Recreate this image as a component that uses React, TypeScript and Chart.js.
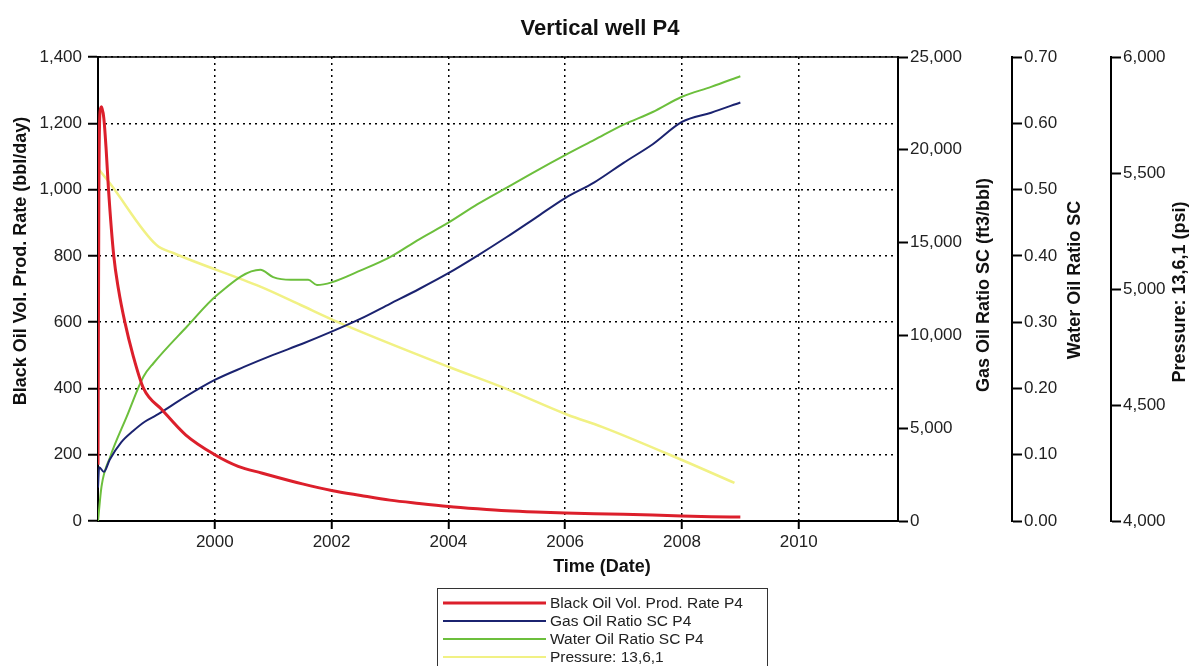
import React, { useEffect, useRef } from 'react';
import { Chart, registerables } from 'chart.js';

Chart.register(...registerables);

// ---- Data ----
const xTicks = [2000, 2002, 2004, 2006, 2008, 2010];

const oilYears = [1998.0, 1998.015, 1998.035, 1998.06, 1998.1, 1998.14, 1998.18, 1998.27, 1998.35, 1998.46, 1998.6, 1998.78, 1999.1, 1999.5, 2000, 2000.4, 2000.8, 2001.5, 2002, 2002.5, 2003, 2003.5, 2004, 2004.5, 2005, 2005.5, 2006, 2006.5, 2007, 2007.5, 2008, 2008.5, 2009];
const oilRate = [170, 1000, 1235, 1250, 1215, 1120, 1000, 800, 700, 600, 500, 400, 335, 260, 200, 165, 145, 112, 92, 77, 63, 53, 44, 37, 31, 27, 24, 22, 20, 18, 15, 13, 12];

const gorYears = [1998.0, 1998.02, 1998.1, 1998.2, 1998.4, 1998.6, 1998.8, 1999.0, 1999.5, 2000, 2000.5, 2001, 2001.5, 2002, 2002.5, 2003, 2003.5, 2004, 2004.5, 2005, 2005.5, 2006, 2006.5, 2007, 2007.5, 2008, 2008.5, 2009];
const gorValues = [1800, 2900, 2650, 3300, 4250, 4850, 5350, 5700, 6700, 7600, 8300, 8950, 9550, 10200, 10900, 11700, 12500, 13350, 14300, 15300, 16350, 17400, 18250, 19300, 20300, 21500, 22000, 22550];

const worYears = [1998.0, 1998.06, 1998.21, 1998.49, 1998.78, 1998.95, 1999.52, 2000.04, 2000.78, 2001.0, 2001.3, 2001.6, 2001.75, 2002.0, 2002.5, 2003, 2003.5, 2004, 2004.5, 2005, 2005.5, 2006, 2006.5, 2007, 2007.5, 2008, 2008.5, 2009];
const worValues = [0.0, 0.052, 0.097, 0.157, 0.218, 0.238, 0.293, 0.341, 0.379, 0.368, 0.364, 0.364, 0.356, 0.36, 0.378, 0.398, 0.425, 0.45, 0.478, 0.503, 0.528, 0.552, 0.575, 0.598, 0.617, 0.64, 0.655, 0.671];

const presYears = [1998.0, 1998.2, 1999.0, 1999.3, 2000.78, 2001.47, 2002.03, 2004.0, 2004.9, 2006.05, 2006.63, 2008.0, 2008.9];
const presValues = [5520, 5457, 5190, 5154, 5010, 4931, 4866, 4665, 4579, 4457, 4406, 4263, 4164];

const seriesNames = ['Black Oil Vol. Prod. Rate P4', 'Gas Oil Ratio SC P4', 'Water Oil Ratio SC P4', 'Pressure: 13,6,1'];
const seriesColors = ['#dc1f2b', '#1b2370', '#6cbf3c', '#f1f184'];

const toPts = (xs: number[], ys: number[]) => xs.map((x, i) => ({ x, y: ys[i] }));

const FONT = '"Liberation Sans", Arial, sans-serif';

const decoPlugin = {
  id: 'deco',
  afterDraw(chart: any) {
    const { ctx, chartArea: ca } = chart;
    ctx.save();
    ctx.strokeStyle = '#000';
    ctx.lineWidth = 1.5;
    ctx.beginPath();
    ctx.moveTo(ca.left, ca.top);
    ctx.lineTo(ca.right, ca.top);
    ctx.stroke();

    ctx.fillStyle = '#111';
    ctx.textAlign = 'center';
    ctx.textBaseline = 'middle';
    ctx.font = `bold 22px ${FONT}`;
    ctx.fillText('Vertical well P4', 600, 29);
    ctx.font = `bold 18px ${FONT}`;
    ctx.fillText('Time (Date)', 602, 567);

    const vt = (t: string, x: number, y: number) => {
      ctx.save();
      ctx.translate(x, y);
      ctx.rotate(-Math.PI / 2);
      ctx.fillText(t, 0, 0);
      ctx.restore();
    };
    ctx.font = `bold 18px ${FONT}`;
    vt('Black Oil Vol. Prod. Rate (bbl/day)', 21, 261);
    vt('Gas Oil Ratio SC (ft3/bbl)', 984, 285);
    vt('Water Oil Ratio SC', 1075, 280);
    vt('Pressure: 13,6,1 (psi)', 1180, 292);

    // legend
    ctx.strokeStyle = '#333';
    ctx.lineWidth = 1;
    ctx.strokeRect(437.5, 588.5, 330, 90);
    ctx.font = `15.5px ${FONT}`;
    ctx.textAlign = 'left';
    chart.data.datasets.forEach((ds: any, i: number) => {
      const y = 603 + i * 18;
      ctx.strokeStyle = ds.borderColor;
      ctx.lineWidth = i === 0 ? 3 : 2;
      ctx.beginPath();
      ctx.moveTo(443, y);
      ctx.lineTo(546, y);
      ctx.stroke();
      ctx.fillStyle = '#222';
      ctx.fillText(ds.label, 550, y + 1);
    });
    ctx.restore();
  },
};

export default function App() {
  const ref = useRef<HTMLCanvasElement>(null);
  useEffect(() => {
    document.body.style.margin = '0';
    const canvas = ref.current!;
    const tickFont = { family: FONT, size: 17 };
    const sideAxis = (min: number, max: number, step: number, width: number, cb?: (v: number) => string) => ({
      type: 'linear' as const,
      position: 'right' as const,
      min,
      max,
      afterFit: (s: any) => { s.width = width; },
      ticks: { stepSize: step, font: tickFont, color: '#222', padding: 2, ...(cb ? { callback: (v: any) => cb(Number(v)) } : {}) },
      grid: { drawOnChartArea: false, drawTicks: true, tickLength: 10, tickColor: '#000', tickWidth: 2 },
      border: { display: true, color: '#000', width: 2 },
    });
    const chart = new Chart(canvas, {
      type: 'line',
      data: {
        datasets: [
          { label: seriesNames[0], data: toPts(oilYears, oilRate), borderColor: seriesColors[0], borderWidth: 3, yAxisID: 'y', pointRadius: 0, cubicInterpolationMode: 'monotone' },
          { label: seriesNames[1], data: toPts(gorYears, gorValues), borderColor: seriesColors[1], borderWidth: 2, yAxisID: 'gor', pointRadius: 0, cubicInterpolationMode: 'monotone' },
          { label: seriesNames[2], data: toPts(worYears, worValues), borderColor: seriesColors[2], borderWidth: 2, yAxisID: 'wor', pointRadius: 0, cubicInterpolationMode: 'monotone' },
          { label: seriesNames[3], data: toPts(presYears, presValues), borderColor: seriesColors[3], borderWidth: 2.5, yAxisID: 'pres', pointRadius: 0, cubicInterpolationMode: 'monotone' },
        ],
      },
      options: {
        responsive: false,
        animation: false,
        devicePixelRatio: 1,
        layout: { padding: { top: 57, left: 0, right: 0, bottom: 0 } },
        plugins: { legend: { display: false }, title: { display: false }, tooltip: { enabled: false } },
        scales: {
          x: {
            type: 'linear',
            min: 1998,
            max: 2011.7,
            afterBuildTicks: (s: any) => { s.ticks = xTicks.map((v) => ({ value: v })); },
            afterFit: (s: any) => { s.height = 145; },
            ticks: { font: tickFont, color: '#222', padding: 3, maxRotation: 0, callback: (v: any) => String(v) },
            grid: { color: '#000', lineWidth: 1.5, drawTicks: true, tickLength: 8, tickColor: '#000', tickWidth: 2, tickBorderDash: [] },
            border: { display: true, color: '#000', width: 2, dash: [2, 4] },
          },
          y: {
            type: 'linear',
            position: 'left',
            min: 0,
            max: 1400,
            afterFit: (s: any) => { s.width = 98; },
            ticks: { stepSize: 200, font: tickFont, color: '#222', padding: 6 },
            grid: { color: '#000', lineWidth: 1.5, drawTicks: true, tickLength: 10, tickColor: '#000', tickWidth: 2, tickBorderDash: [] },
            border: { display: true, color: '#000', width: 2, dash: [2, 4] },
          },
          gor: sideAxis(0, 25000, 5000, 114),
          wor: sideAxis(0, 0.7, 0.1, 99, (v) => v.toFixed(2)),
          pres: sideAxis(4000, 6000, 500, 79),
        },
      } as any,
      plugins: [decoPlugin],
    });
    return () => chart.destroy();
  }, []);
  return (
    <div style={{ position: 'absolute', left: 0, top: 0, width: 1190, height: 666, background: '#fff' }}>
      <canvas ref={ref} width={1190} height={666} style={{ display: 'block' }} />
    </div>
  );
}
